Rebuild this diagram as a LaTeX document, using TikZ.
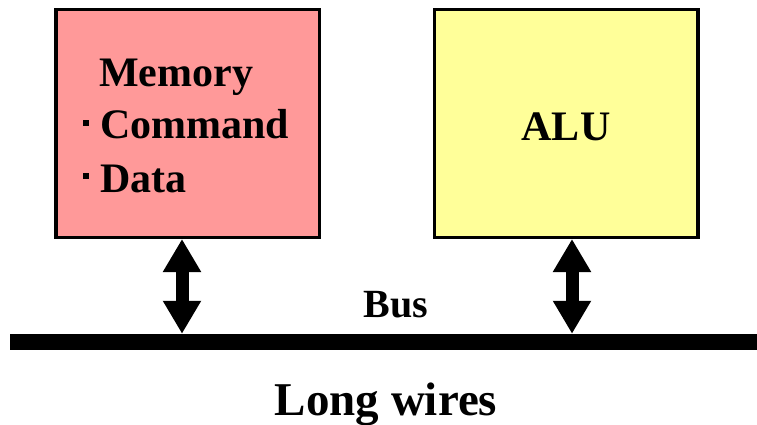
\documentclass[tikz,border=0pt]{standalone}
\usepackage{fontspec}
\setmainfont{Liberation Serif}
\usetikzlibrary{arrows.meta}
\definecolor{mempink}{RGB}{255,153,153}
\definecolor{aluyellow}{RGB}{255,255,153}
\newcommand{\sqbullet}{\rule[0.31em]{0.145em}{0.145em}\hspace{0.26em}}
\tikzset{
  unitbox/.style={draw=black, line width=3.5pt, inner sep=0pt,
    minimum width=263.5pt, minimum height=227.5pt},
  label42/.style={inner sep=0pt, font=\fontsize{42}{50}\selectfont\bfseries},
  busbar/.style={fill=black, inner sep=0pt, minimum width=747pt, minimum height=16pt},
  busarrow/.style={line width=13pt,
    {Triangle[width=36pt,length=33pt]}-{Triangle[width=36pt,length=33pt]}}
}
\begin{document}
\begin{tikzpicture}[x=1pt, y=-1pt]
  \useasboundingbox (0,0) rectangle (757,425);

  % functional units
  \node[unitbox, fill=mempink] (mem) at (187.5,123.5) {};
  \node[unitbox, fill=aluyellow] (alu) at (566,123.5) {};

  % memory contents
  \node[label42, anchor=base west] (memtitle) at (99,87) {Memory};
  \node[label42, anchor=base west] (memcmd) at (83,139) {\sqbullet Command};
  \node[label42, anchor=base west] (memdata) at (83,192) {\sqbullet Data};

  % ALU label
  \node[label42, anchor=base] (alutitle) at (566,140) {ALU};

  % shared bus
  \node[busbar] (bus) at (383.5,342) {};
  \node[inner sep=0pt, anchor=base, font=\fontsize{40}{48}\selectfont\bfseries]
    (buslabel) at (396,317) {Bus};

  % connections to the bus
  \draw[busarrow] (mem.south -| 182,0) -- (bus.north -| 182,0);
  \draw[busarrow] (alu.south -| 572,0) -- (bus.north -| 572,0);

  % caption
  \node[inner sep=0pt, anchor=base, font=\fontsize{47}{56}\selectfont\bfseries]
    (caption) at (386,415) {Long wires};
\end{tikzpicture}
\end{document}
